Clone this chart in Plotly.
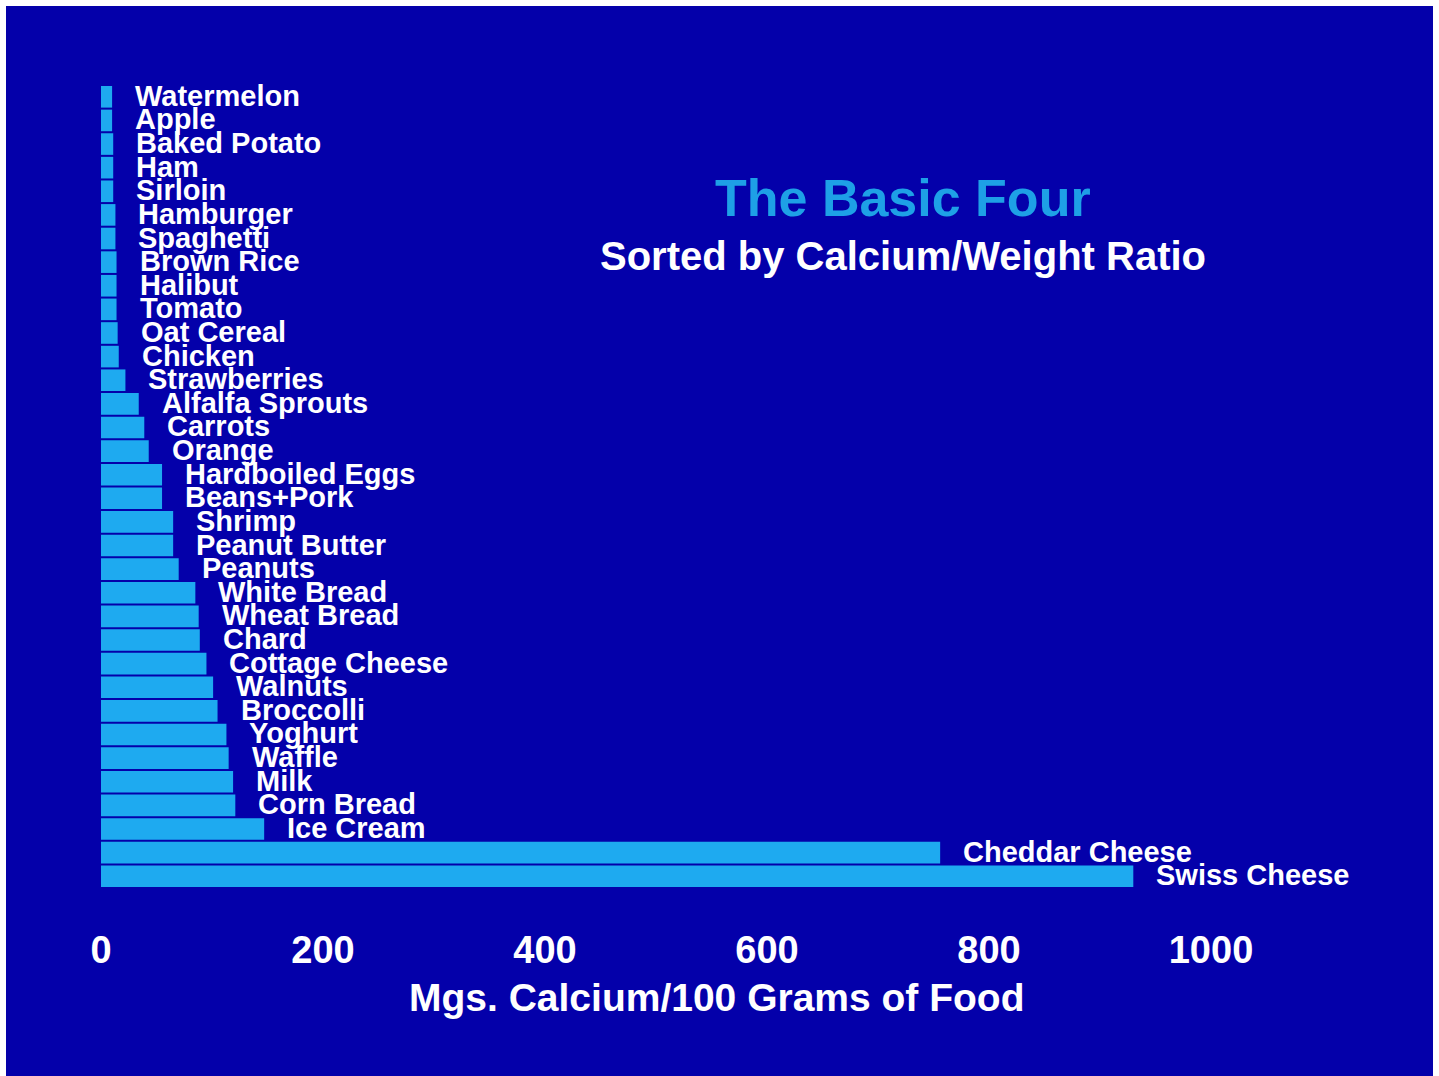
import plotly.graph_objects as go

foods = ["Watermelon", "Apple", "Baked Potato", "Ham", "Sirloin", "Hamburger",
         "Spaghetti", "Brown Rice", "Halibut", "Tomato", "Oat Cereal", "Chicken",
         "Strawberries", "Alfalfa Sprouts", "Carrots", "Orange", "Hardboiled Eggs",
         "Beans+Pork", "Shrimp", "Peanut Butter", "Peanuts", "White Bread",
         "Wheat Bread", "Chard", "Cottage Cheese", "Walnuts", "Broccolli",
         "Yoghurt", "Waffle", "Milk", "Corn Bread", "Ice Cream",
         "Cheddar Cheese", "Swiss Cheese"]
calcium = [10, 10, 11, 11, 11, 13,
           13, 14, 14, 14, 15, 16,
           22, 34, 39, 43, 55,
           55, 65, 65, 70, 85,
           88, 89, 95, 101, 105,
           113, 115, 119, 121, 147,
           756, 930]
x_ticks = [0, 200, 400, 600, 800, 1000]

title_text = "The Basic Four"
subtitle_text = "Sorted by Calcium/Weight Ratio"
x_title = "Mgs. Calcium/100 Grams of Food"

W, H = 1439, 1076
L, R, T, B = 101, 6, 85, 188
pw, ph = W - L - R, H - T - B

def px_x(p):
    return (p - L) / pw

def px_y(p):
    return (H - B - p) / ph

BG = "#0400AA"
BAR = "#1EAAF0"
TITLE_BLUE = "#1EA0E6"
FONT = "Liberation Sans, Arial, sans-serif"

fig = go.Figure()
fig.add_trace(go.Bar(
    x=calcium, y=list(range(len(foods))), orientation="h",
    marker=dict(color=BAR, line=dict(width=0)),
    hovertext=foods, hoverinfo="x+text",
))

annotations = []
for i, (f, v) in enumerate(zip(foods, calcium)):
    annotations.append(dict(
        x=v, y=i, xref="x", yref="y", text=f"<b>{f}</b>",
        showarrow=False, xanchor="left", yanchor="middle", xshift=21, yshift=1,
        font=dict(family=FONT, size=29, color="white"),
    ))

annotations.append(dict(
    x=px_x(903), y=px_y(198), xref="paper", yref="paper",
    text=f"<b>{title_text}</b>", showarrow=False,
    xanchor="center", yanchor="middle",
    font=dict(family=FONT, size=52, color=TITLE_BLUE),
))
annotations.append(dict(
    x=px_x(903), y=px_y(256), xref="paper", yref="paper",
    text=f"<b>{subtitle_text}</b>", showarrow=False,
    xanchor="center", yanchor="middle",
    font=dict(family=FONT, size=40, color="white"),
))
annotations.append(dict(
    x=px_x(716), y=px_y(997), xref="paper", yref="paper",
    text=f"<b>{x_title}</b>", showarrow=False,
    xanchor="center", yanchor="middle",
    font=dict(family=FONT, size=39, color="white"),
))

shapes = [dict(
    type="rect", xref="paper", yref="paper", layer="below",
    x0=px_x(6), x1=px_x(1433), y0=px_y(1076), y1=px_y(6),
    fillcolor=BG, line=dict(width=0),
)]

fig.update_layout(
    width=W, height=H,
    margin=dict(l=L, r=R, t=T, b=B, pad=0),
    paper_bgcolor="white",
    plot_bgcolor="rgba(0,0,0,0)",
    showlegend=False,
    bargap=0.085,
    annotations=annotations,
    shapes=shapes,
    xaxis=dict(
        range=[0, 1200], tickvals=x_ticks, ticktext=[f"<b>{t}</b>" for t in x_ticks],
        showgrid=False, zeroline=False, showline=False, ticks="",
        tickfont=dict(family=FONT, size=38, color="white"),
        ticklabelstandoff=36, fixedrange=True, automargin=False,
    ),
    yaxis=dict(
        range=[len(foods) - 0.5, -0.5],
        showticklabels=False, showgrid=False, zeroline=False, showline=False,
        ticks="", fixedrange=True, automargin=False,
    ),
)

fig.write_html("out.html")
